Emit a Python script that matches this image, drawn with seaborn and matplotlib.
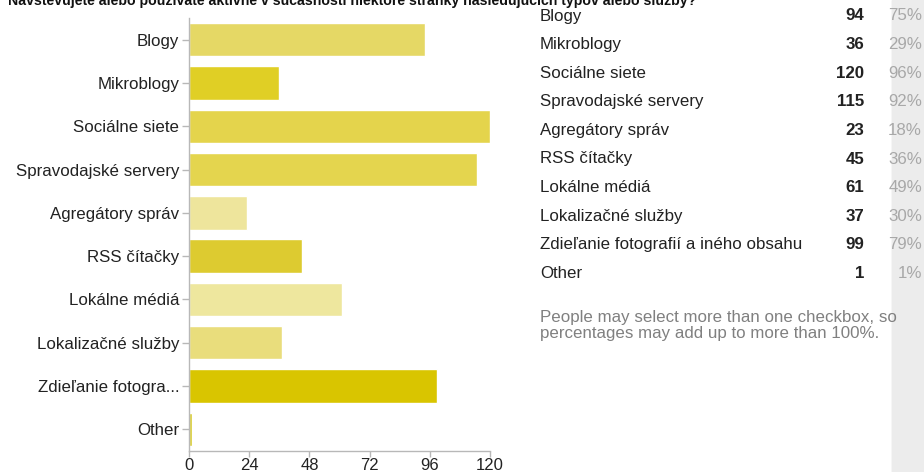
import matplotlib
matplotlib.use("Agg")
import matplotlib.pyplot as plt
import seaborn as sns
import pandas as pd

# Survey answers and counts
categories = ["Blogy", "Mikroblogy", "Sociálne siete", "Spravodajské servery",
              "Agregátory správ", "RSS čítačky", "Lokálne médiá",
              "Lokalizačné služby", "Zdieľanie fotografií a iného obsahu", "Other"]
axis_labels = ["Blogy", "Mikroblogy", "Sociálne siete", "Spravodajské servery",
               "Agregátory správ", "RSS čítačky", "Lokálne médiá",
               "Lokalizačné služby", "Zdieľanie fotogra...", "Other"]
counts = [94, 36, 120, 115, 23, 45, 61, 37, 99, 1]
percents = ["75%", "29%", "96%", "92%", "18%", "36%", "49%", "30%", "79%", "1%"]
x_ticks = [0, 24, 48, 72, 96, 120]
bar_colors = ["#e5d865", "#e0cf25", "#e4d44c", "#e4d54e", "#eee59c",
              "#ddcb30", "#eee79e", "#e9dd7c", "#d9c500", "#d8cc2e"]

title = ("Navštevujete alebo používate aktívne v súčasnosti niektoré stránky "
         "nasledujúcich typov alebo služby?")
note = ("People may select more than one checkbox, so\n"
        "percentages may add up to more than 100%.")

sns.set_theme(style="white")
plt.rcParams["font.family"] = ["Liberation Sans", "DejaVu Sans"]

W, H = 924, 472
FS = 12.2
fig = plt.figure(figsize=(W / 100, H / 100), dpi=100)
fig.patch.set_facecolor("white")

# Grey side strip on the right edge
fig.patches.append(plt.Rectangle((892 / W, 0), 1 - 892 / W, 1, transform=fig.transFigure,
                                 facecolor="#ececec", edgecolor="none", zorder=0))
fig.add_artist(plt.Line2D([892 / W, 892 / W], [0, 1], transform=fig.transFigure,
                          color="#d6d6d6", lw=1, zorder=0))

ax = fig.add_axes([189 / W, 1 - 451 / H, (490 - 189) / W, (451 - 18) / H])
df = pd.DataFrame({"label": axis_labels, "count": counts})
sns.barplot(data=df, x="count", y="label", hue="label", palette=bar_colors,
            legend=False, orient="h", width=0.77, saturation=1, ax=ax)

ax.set_xlim(0, 120)
ax.set_xticks(x_ticks)
ax.set_xticklabels([str(t) for t in x_ticks])
ax.set_xlabel("")
ax.set_ylabel("")
ax.set_facecolor("none")
for side in ["top", "right"]:
    ax.spines[side].set_visible(False)
for side in ["left", "bottom"]:
    ax.spines[side].set_color("#b8b8b8")
    ax.spines[side].set_linewidth(1)
ax.tick_params(axis="both", which="both", length=5, width=1, color="#b8b8b8",
               labelsize=FS, labelcolor="#222222", pad=2)
ax.tick_params(axis="x", length=4, labelsize=12, pad=1)
ax.tick_params(left=True, bottom=True)

# Title, clipped at the top edge
fig.text(8 / W, 1 - 4.5 / H, title, fontsize=10.2, fontweight="bold", color="#111111",
         ha="left", va="baseline")

# Summary table on the right
row0, step = 16, 28.6
for i, (name, c, p) in enumerate(zip(categories, counts, percents)):
    y = 1 - (row0 + i * step) / H
    fig.text(540 / W, y, name, fontsize=FS, color="#222222", ha="left", va="center")
    fig.text(864 / W, y, str(c), fontsize=FS, fontweight="bold", color="#222222",
             ha="right", va="center")
    fig.text(922 / W, y, p, fontsize=FS, color="#a8a8a8", ha="right", va="center")

fig.text(540 / W, 1 - 310 / H, note, fontsize=FS, color="#808080", ha="left",
         va="top", linespacing=1.05)

fig.savefig("out.png", dpi=100)
